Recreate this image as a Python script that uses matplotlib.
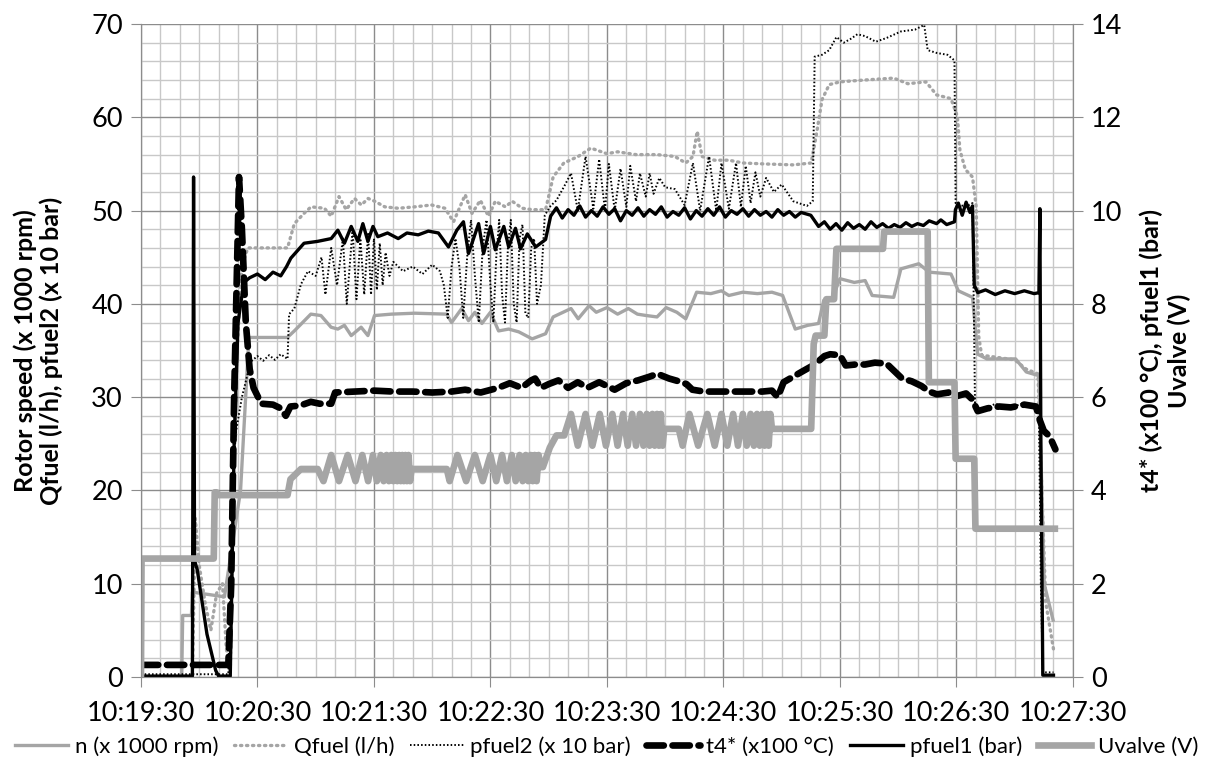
import matplotlib
matplotlib.use("Agg")
import matplotlib.pyplot as plt
import numpy as np

plt.rcParams['font.family'] = ['Lato', 'DejaVu Sans']

# time in seconds after 10:19:30
x_ticks = [0, 60, 120, 180, 240, 300, 360, 420, 480]
x_labels = ['10:19:30', '10:20:30', '10:21:30', '10:22:30', '10:23:30',
            '10:24:30', '10:25:30', '10:26:30', '10:27:30']

# left axis series: (t, value)
n_pts = [(0, 0), (21, 0), (21.5, 6.6), (26, 6.6), (26.5, 9.1), (43, 8.6), (51.3, 20), (55.6, 36.4),
         (75.4, 36.4), (79, 37.1), (87.5, 38.9), (92.7, 38.75), (97.9, 37.5), (101.4, 37.3), (104.8, 37.7),
         (108.3, 36.6), (113.4, 37.5), (116.9, 36.6), (120.3, 38.75), (129, 38.9), (141, 39), (157.5, 38.9),
         (160, 38), (165.2, 39.5), (168.7, 38.2), (172, 39.1), (175.6, 37.9), (180, 39.1), (184.2, 37.1),
         (189.4, 37.3), (194.6, 37), (201.5, 36.25), (208.4, 36.8), (212.3, 38.6), (221.5, 39.5),
         (225.2, 38.4), (230.8, 39.8), (234.5, 39.1), (240, 39.6), (245.5, 38.9), (251, 39.5), (255.7, 38.9),
         (260.3, 38.75), (265.8, 38.6), (270.5, 39.6), (276, 39.1), (280.6, 38.4), (286.2, 41.25),
         (293.5, 41.1), (299, 41.4), (302.8, 40.9), (310, 41.25), (317.5, 41.1), (325, 41.25), (330.5, 40.9),
         (337, 37.3), (343.4, 37.7), (349, 37.9), (351.7, 40.4), (356.3, 40.7), (360, 42.7), (367.4, 42.3),
         (373, 42.5), (376.6, 40.9), (387.7, 40.7), (391.4, 43.75), (400.6, 44.3), (406, 43.4),
         (417.2, 43.2), (421, 41.4), (428.3, 40.7), (431, 34.6), (435.7, 34.1), (450.5, 34.1), (456, 32.7),
         (462.5, 32.3), (465.2, 10), (469.8, 6.1)]

qfuel_pts = [(0, 0), (26.5, 0), (28, 17), (30, 12), (33, 8), (36, 5), (39, 9), (42, 10), (44, 3), (46, 0.5),
             (47.5, 20), (49.5, 35), (52, 44), (55, 46), (75.5, 46), (79, 48.6), (84, 49.7), (87.6, 50.4),
             (94.5, 50.25), (98, 49.4), (102, 51.5), (105.7, 50.1), (110, 51.3), (113.5, 50.6), (117, 51.3),
             (120.4, 51), (125.6, 50.4), (132.5, 50.25), (141, 50.4), (149.7, 50.6), (156.6, 50.25),
             (161, 48.8), (167, 51.7), (170.5, 49.7), (174.8, 51.1), (179, 49.4), (182.5, 51), (187.7, 50.4),
             (191.2, 51), (196.4, 50.25), (201.5, 50.1), (208.4, 50.1), (212.3, 53.6), (217.8, 55.1),
             (225.2, 55.8), (231.7, 56.7), (240, 56.1), (245.5, 56.3), (255, 56), (265.8, 56), (275, 55.8),
             (280.6, 55.1), (284.3, 55.8), (286.5, 58.5), (289, 55.8), (295.4, 55.4), (302.8, 55.4),
             (310.2, 55.1), (321.2, 55), (336, 54.9), (345.2, 55.1), (348, 58.3), (350.8, 61.9), (354.5, 63.5),
             (360, 63.8), (373, 64), (387.7, 64.2), (395, 63.6), (404.3, 63.8), (409.8, 62.4), (417.2, 62),
             (420.5, 60.1), (421.8, 56.5), (424.6, 54.4), (428.3, 53.6), (430.2, 50.4), (431.5, 36.5),
             (433, 34.5), (450, 34), (456, 33), (462, 32.5), (464, 20), (466, 8), (470, 3)]

pfuel2_pts = [(0, 0.3), (45, 0.3), (47, 18), (48.7, 26), (52, 30), (56.5, 33.8), (60, 34.4), (63, 33.9),
              (66, 34.5), (69, 34), (72, 34.6), (75.5, 34.1), (76.3, 38.9), (79, 39.5), (82.4, 42.1), (86, 43.5),
              (90, 43), (93, 45), (95, 41), (98, 46), (101, 42), (104, 47), (106, 40), (109, 48), (111, 40.5),
              (113, 47), (115, 41), (117, 47.5), (118.5, 41), (120, 47), (121.5, 41.5), (123, 46.5),
              (124.5, 42), (126, 45.5), (128, 43), (130, 44.5), (135, 43.5), (140, 44), (145, 43.2),
              (150, 44.2), (154, 43.5), (156, 42), (158, 38.5), (160, 44), (162, 47), (164, 44), (166, 38.5),
              (168, 45), (170, 49), (172, 43), (174, 38), (176, 46), (178, 49), (180, 42), (181.5, 38),
              (183, 45), (184.5, 49), (186, 41), (187.5, 38), (189, 46), (190.5, 49), (192, 40), (193.5, 38),
              (195, 47), (196.5, 48.5), (198, 39), (199.5, 38.5), (201, 46), (202.5, 47), (204, 40), (206, 42),
              (208, 49.5), (211, 50.5), (214, 51.1), (218, 52.6), (221.5, 54), (225, 50), (229, 55.8),
              (233, 50.2), (236, 55.5), (239, 50), (241, 55), (244, 50), (247, 54.5), (250, 50.4), (252, 54.8),
              (255, 51), (257, 54), (260, 51.5), (262, 54), (264, 51.8), (267, 53.5), (270, 52.5),
              (275, 52.3), (280, 50.6), (284.3, 55.1), (288, 50), (292.6, 55.8), (296.3, 50), (299, 55.1),
              (302.8, 50.2), (306.5, 55.1), (309, 50.4), (311.5, 54.8), (314, 50.8), (316.5, 54.1),
              (319, 51.5), (322, 53.5), (326, 52), (330, 52.8), (336, 51), (343, 50.5), (346, 51),
              (347, 66.5), (350.8, 66.7), (354.5, 67.2), (358.2, 68.6), (362, 68), (365.5, 68.4), (369, 68.9),
              (373, 68.7), (378.5, 68.1), (384, 68.5), (391.4, 69.2), (398.7, 69.4), (403.4, 69.9),
              (405.2, 67.2), (409.8, 66.9), (415.4, 66.7), (419, 66.1), (419.6, 50.8), (424.6, 50.4),
              (428.3, 50.8), (429.6, 29), (433, 28.5), (440, 29.3), (447, 28.8), (455, 29.4), (462.5, 28.5),
              (463.5, 10), (464.5, 0.5), (470, 0.5)]

# right axis series
t4_pts = [(0, 0.26), (45, 0.26), (46.5, 2.0), (48, 6.0), (50.5, 10.72), (52, 9.6), (54, 7.6), (56, 6.6),
          (58, 6.2), (62, 5.86), (68, 5.84), (72, 5.76), (74.6, 5.6), (77, 5.8), (82, 5.82), (87.5, 5.9),
          (92, 5.86), (98, 5.86), (100, 6.1), (110, 6.12), (120, 6.14), (130, 6.12), (140, 6.12), (150, 6.1),
          (160, 6.12), (167, 6.16), (175, 6.1), (184, 6.2), (190, 6.3), (196, 6.2), (201, 6.36), (203, 6.4),
          (206, 6.2), (210, 6.28), (215, 6.36), (220, 6.2), (225, 6.32), (230, 6.2), (236, 6.32), (244, 6.16),
          (250, 6.3), (256, 6.36), (262, 6.44), (266, 6.5), (272, 6.4), (277, 6.34), (281, 6.28), (284, 6.16),
          (290, 6.12), (300, 6.12), (310, 6.12), (320, 6.12), (325, 6.14), (328, 6.0), (331, 6.32),
          (336, 6.44), (341, 6.56), (347, 6.7), (352, 6.88), (355, 6.92), (360, 6.9), (363, 6.68), (368, 6.7),
          (373, 6.7), (378, 6.74), (384, 6.72), (388, 6.56), (392, 6.4), (397, 6.34), (402, 6.24),
          (406, 6.12), (410, 6.06), (416, 6.1), (420, 6.02), (425, 6.08), (428, 5.96), (431, 5.7),
          (436, 5.76), (442, 5.8), (448, 5.78), (455, 5.84), (461, 5.8), (463, 5.5), (465, 5.28),
          (468, 5.16), (471, 4.88)]

pfuel1_pts = [(0, 0.02), (26.5, 0.02), (27.1, 10.72), (27.6, 2.5), (29, 2.3), (34, 0.92), (38.5, 0.14),
              (40, 0.02), (46, 0.02), (48, 5.0), (50, 7.6), (53, 8.46), (56, 8.56), (60, 8.64), (64, 8.52),
              (68, 8.68), (72, 8.6), (75, 8.8), (77.2, 8.98), (84, 9.3), (91, 9.34), (98, 9.4), (101.4, 9.58),
              (104.8, 9.3), (108.3, 9.66), (111.7, 9.34), (114.3, 9.72), (116.9, 9.34), (119.5, 9.66),
              (122, 9.44), (127, 9.52), (132.5, 9.4), (137, 9.52), (142.8, 9.48), (148, 9.56), (153.2, 9.52),
              (158.4, 9.22), (162.7, 9.58), (166.1, 9.76), (168.7, 9.08), (173.9, 9.72), (176.5, 9.08),
              (180, 9.66), (182.5, 9.16), (186.9, 9.66), (189.4, 9.22), (192.9, 9.62), (195.5, 9.18),
              (199, 9.5), (203.3, 9.22), (208.4, 9.38), (211, 9.88), (214, 10.06), (217, 9.84), (220, 10.02),
              (223, 9.9), (226, 10.1), (229, 9.86), (232, 10.0), (235, 9.88), (238, 10.08), (241, 9.92),
              (244, 10.04), (247, 9.78), (250, 10.0), (253, 9.9), (256, 10.06), (259, 9.88), (262, 10.02),
              (265, 9.92), (268, 10.08), (271, 9.86), (274, 9.98), (277, 9.9), (280, 10.06), (283, 9.82),
              (286, 10.0), (289, 9.88), (292, 10.04), (295, 9.9), (298, 10.08), (301, 9.86), (304, 10.0),
              (307, 9.92), (310, 10.04), (313, 9.88), (316, 10.02), (319, 9.9), (322, 9.98), (325, 9.86),
              (328, 10.02), (331, 9.9), (334, 9.98), (337, 9.86), (340, 9.96), (345, 9.9), (349, 9.66),
              (352, 9.76), (355, 9.6), (358, 9.72), (361, 9.58), (364, 9.74), (367, 9.62), (370, 9.7),
              (373, 9.6), (376, 9.76), (379, 9.64), (382, 9.72), (385, 9.62), (388, 9.7), (391, 9.64),
              (394, 9.74), (397, 9.66), (400, 9.72), (403, 9.68), (406, 9.78), (409.8, 9.72), (412, 9.8),
              (415, 9.7), (419, 9.76), (419.5, 10.02), (421, 10.16), (423, 9.9), (425, 10.18), (427, 9.96),
              (428.3, 10.1), (429.2, 8.4), (431, 8.24), (435, 8.3), (440, 8.2), (445, 8.28), (450, 8.22),
              (455, 8.28), (460, 8.22), (462.5, 8.24), (463, 10.04), (463.5, 5.0), (464.5, 0.04), (470, 0.04)]

uvalve_pts = [(0, 0), (0.3, 2.54), (37.5, 2.54), (38, 3.96), (39, 3.96), (40, 3.9), (75.5, 3.9), (77, 4.24),
              (82.4, 4.46), (91, 4.46), (94, 4.2), (98, 4.76), (102, 4.2), (106.5, 4.76), (110.5, 4.2),
              (114, 4.76), (117, 4.2), (119.5, 4.76), (121.5, 4.2), (123.5, 4.76), (125, 4.2), (126.5, 4.76),
              (127.7, 4.2), (128.9, 4.76), (130, 4.2), (131, 4.76), (132, 4.2), (133, 4.76), (133.8, 4.2),
              (134.6, 4.76), (135.4, 4.2), (136.2, 4.76), (137, 4.2), (137.8, 4.76), (138.6, 4.2),
              (139.4, 4.46), (157.5, 4.46), (159, 4.2), (163, 4.76), (167.5, 4.2), (172, 4.76), (176, 4.2),
              (180, 4.76), (183, 4.2), (186, 4.76), (188.5, 4.2), (191, 4.76), (193, 4.2), (195, 4.76),
              (196.6, 4.2), (198.2, 4.76), (199.5, 4.2), (200.7, 4.76), (201.8, 4.2), (202.8, 4.76),
              (203.8, 4.2), (204.8, 4.76), (206, 4.5), (207, 4.5), (210.6, 4.92), (214, 5.18), (218, 5.18),
              (221.5, 5.64), (225, 4.96), (229, 5.64), (232.5, 4.96), (236.3, 5.64), (239.5, 4.96),
              (242.8, 5.64), (245.5, 4.96), (248.3, 5.64), (250.7, 4.96), (253, 5.64), (255, 4.96),
              (257, 5.64), (258.8, 4.96), (260.5, 5.64), (262, 4.96), (263.4, 5.64), (264.6, 4.96),
              (265.8, 5.64), (266.8, 4.96), (267.8, 5.64), (268.7, 4.96), (269.5, 5.32), (277, 5.32),
              (279, 4.96), (282.5, 5.64), (287, 4.96), (291.7, 5.64), (295.5, 4.96), (299, 5.64), (302, 4.96),
              (305, 5.64), (307.5, 4.96), (310, 5.64), (312, 4.96), (314, 5.64), (315.7, 4.96), (317.3, 5.64),
              (318.7, 4.96), (320, 5.64), (321.2, 4.96), (322.3, 5.64), (323.3, 4.96), (324.2, 5.64),
              (325, 5.32), (345.2, 5.32), (346.5, 7.14), (347.5, 7.32), (352, 7.32), (353, 8.1), (357, 8.1),
              (358.2, 9.18), (382.2, 9.18), (382.8, 9.55), (405.2, 9.55), (405.8, 6.32), (419, 6.32),
              (419.6, 4.68), (429.2, 4.68), (429.8, 3.18), (470.7, 3.18)]

gray = '#a5a5a5'

fig = plt.figure(figsize=(12.13, 7.62), dpi=100)
ax = fig.add_axes([0.1162, 0.1115, 0.7683, 0.857])
ax2 = ax.twinx()


def xy(pts):
    a = np.array(pts, dtype=float)
    return a[:, 0], a[:, 1]


h = []
h += ax.plot(*xy(n_pts), color=gray, lw=2.4, label='n (x 1000 rpm)')
h += ax.plot(*xy(qfuel_pts), color=gray, lw=2.4, ls=(0, (0.4, 1.4)), dash_capstyle='round',
             label='Qfuel (l/h)')
h += ax.plot(*xy(pfuel2_pts), color='black', lw=1.4, ls=(0, (0.8, 1.1)), label='pfuel2 (x 10 bar)')
h += ax2.plot(*xy(t4_pts), color='black', lw=4.8, ls=(0, (2.6, 1.3)), dash_capstyle='round',
              label='t4* (x100 °C)')
h += ax2.plot(*xy(pfuel1_pts), color='black', lw=2.4, label='pfuel1 (bar)')
h += ax2.plot(*xy(uvalve_pts), color=gray, lw=4.8, label='Uvalve (V)')

ax.set_xlim(0, 480)
ax.set_ylim(0, 70)
ax2.set_ylim(0, 14)
ax.set_xticks(x_ticks)
ax.set_xticklabels(x_labels)
ax.set_xticks(np.arange(0, 481, 10), minor=True)
ax.set_yticks(np.arange(0, 71, 10))
ax.set_yticks(np.arange(0, 71, 2), minor=True)
ax2.set_yticks(np.arange(0, 15, 2))

ax.grid(which='minor', color='#c8c8c8', lw=1)
ax.grid(which='major', color='#8c8c8c', lw=1)
ax.set_axisbelow(True)

for a in (ax, ax2):
    a.spines['top'].set_visible(False)
    for s in ('left', 'right', 'bottom'):
        a.spines[s].set_color('#8c8c8c')
    a.tick_params(which='major', length=7, color='#8c8c8c', labelsize=19.5, pad=6)
    a.tick_params(which='minor', length=0)
ax.tick_params(axis='x', pad=10)

ax.set_ylabel('Rotor speed (x 1000 rpm)\nQfuel (l/h), pfuel2 (x 10 bar)', fontsize=18,
              fontweight='bold', linespacing=1.15, labelpad=20)
ax2.set_ylabel('t4* (x100 °C), pfuel1 (bar)\nUvalve (V)', fontsize=18, fontweight='bold',
               linespacing=1.25, labelpad=12, rotation=90)

fig.legend(handles=h, loc='lower center', bbox_to_anchor=(0.5, -0.02), ncol=6, frameon=False,
           fontsize=16, handlelength=2.4, handletextpad=0.3, columnspacing=0.7)

fig.savefig('out.png', dpi=100)
